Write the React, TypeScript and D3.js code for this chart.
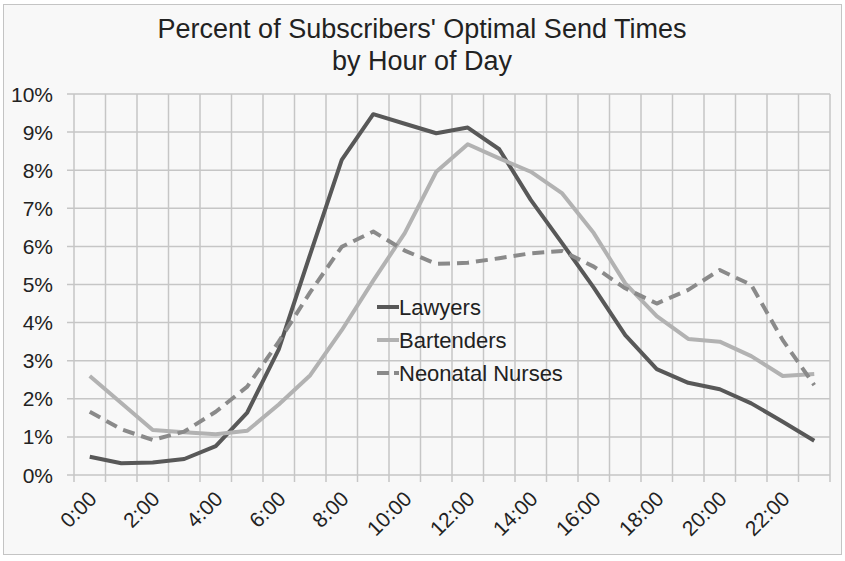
import React, { useEffect, useRef } from 'react';
import * as d3 from 'd3';

const hours = d3.range(24).map(h => `${h}:00`);
const lawyers = [0.48, 0.31, 0.33, 0.42, 0.76, 1.64, 3.3, 5.8, 8.27, 9.47, 9.22, 8.97, 9.12, 8.55, 7.22, 6.08, 4.92, 3.67, 2.78, 2.42, 2.25, 1.88, 1.4, 0.9];
const bartenders = [2.6, 1.89, 1.18, 1.12, 1.07, 1.16, 1.85, 2.62, 3.8, 5.1, 6.35, 7.96, 8.68, 8.31, 7.96, 7.39, 6.35, 5.03, 4.17, 3.57, 3.5, 3.12, 2.6, 2.65];
const nurses = [1.66, 1.2, 0.92, 1.14, 1.66, 2.32, 3.5, 4.8, 5.99, 6.39, 5.89, 5.54, 5.57, 5.69, 5.82, 5.88, 5.47, 4.9, 4.5, 4.86, 5.38, 4.99, 3.54, 2.36];
const yTicks = d3.range(0, 11);

const seriesList = [
  { name: 'Lawyers', values: lawyers, color: '#585858', dash: '' },
  { name: 'Bartenders', values: bartenders, color: '#b2b2b2', dash: '' },
  { name: 'Neonatal Nurses', values: nurses, color: '#8a8a8a', dash: '12,7' },
];

const width = 845;
const height = 561;
const font = "'Liberation Sans', Arial, sans-serif";

export default function App() {
  const svgRef = useRef<SVGSVGElement>(null);

  useEffect(() => {
    if (!svgRef.current) return;
    const svg = d3.select(svgRef.current);
    svg.selectAll('*').remove();

    const margin = { top: 94, right: 15, bottom: 86, left: 74 };

    // frame
    svg.append('rect')
      .attr('x', 3.5).attr('y', 4.5)
      .attr('width', 838).attr('height', 550)
      .attr('fill', '#f8f8f8')
      .attr('stroke', '#c4c4c4');

    const x = d3.scaleBand()
      .domain(hours)
      .range([margin.left, width - margin.right]);

    const y = d3.scaleLinear()
      .domain([0, 10])
      .range([height - margin.bottom, margin.top]);

    const g = svg.append('g');

    // horizontal grid
    g.selectAll('.hgrid')
      .data(yTicks)
      .enter()
      .append('line')
      .attr('x1', margin.left - 7)
      .attr('x2', width - margin.right)
      .attr('y1', d => y(d))
      .attr('y2', d => y(d))
      .attr('stroke', '#c6c6c6')
      .attr('stroke-width', 1.5);

    // vertical grid at category boundaries
    const bounds = hours.map(h => x(h) as number).concat([width - margin.right]);
    g.selectAll('.vgrid')
      .data(bounds)
      .enter()
      .append('line')
      .attr('x1', d => d)
      .attr('x2', d => d)
      .attr('y1', margin.top)
      .attr('y2', height - margin.bottom + 7)
      .attr('stroke', '#c6c6c6')
      .attr('stroke-width', 1.5);

    // y labels
    g.selectAll('.ylab')
      .data(yTicks)
      .enter()
      .append('text')
      .attr('x', 53)
      .attr('y', d => y(d))
      .attr('dy', '0.36em')
      .attr('text-anchor', 'end')
      .style('font-family', font)
      .style('font-size', '21px')
      .style('fill', '#222')
      .text(d => `${d}%`);

    // x labels
    g.selectAll('.xlab')
      .data(hours.filter((_, i) => i % 2 === 0))
      .enter()
      .append('text')
      .attr('transform', d => {
        const cx = (x(d) as number) + x.bandwidth() / 2 + 3;
        return `translate(${cx},${height - margin.bottom + 20}) rotate(-45)`;
      })
      .attr('text-anchor', 'end')
      .attr('dy', '0.35em')
      .style('font-family', font)
      .style('font-size', '21px')
      .style('fill', '#222')
      .text(d => d);

    // lines
    const line = d3.line<number>()
      .x((_, i) => (x(hours[i]) as number) + x.bandwidth() / 2)
      .y(d => y(d));

    seriesList.forEach(s => {
      g.append('path')
        .datum(s.values)
        .attr('d', line)
        .attr('fill', 'none')
        .attr('stroke', s.color)
        .attr('stroke-width', 4)
        .attr('stroke-linejoin', 'round')
        .attr('stroke-dasharray', s.dash || null);
    });

    // legend
    const legend = g.append('g').attr('transform', 'translate(377,307)');
    seriesList.forEach((s, i) => {
      const row = legend.append('g').attr('transform', `translate(0,${i * 33})`);
      row.append('line')
        .attr('x1', 0).attr('x2', 22)
        .attr('stroke', s.color)
        .attr('stroke-width', 4)
        .attr('stroke-dasharray', s.dash ? '12,5' : null);
      row.append('text')
        .attr('x', 22)
        .attr('dy', '0.36em')
        .style('font-family', font)
        .style('font-size', '22px')
        .style('fill', '#222')
        .text(s.name);
    });

    // title
    const title = svg.append('text')
      .attr('x', 422)
      .attr('text-anchor', 'middle')
      .style('font-family', font)
      .style('font-size', '27px')
      .style('fill', '#222');
    title.append('tspan').attr('x', 422).attr('y', 37.5).text("Percent of Subscribers' Optimal Send Times");
    title.append('tspan').attr('x', 422).attr('y', 70).text('by Hour of Day');
  }, []);

  return (
    <svg
      ref={svgRef}
      width={width}
      height={height}
      style={{ position: 'absolute', left: 0, top: 0, background: '#fff' }}
    />
  );
}
